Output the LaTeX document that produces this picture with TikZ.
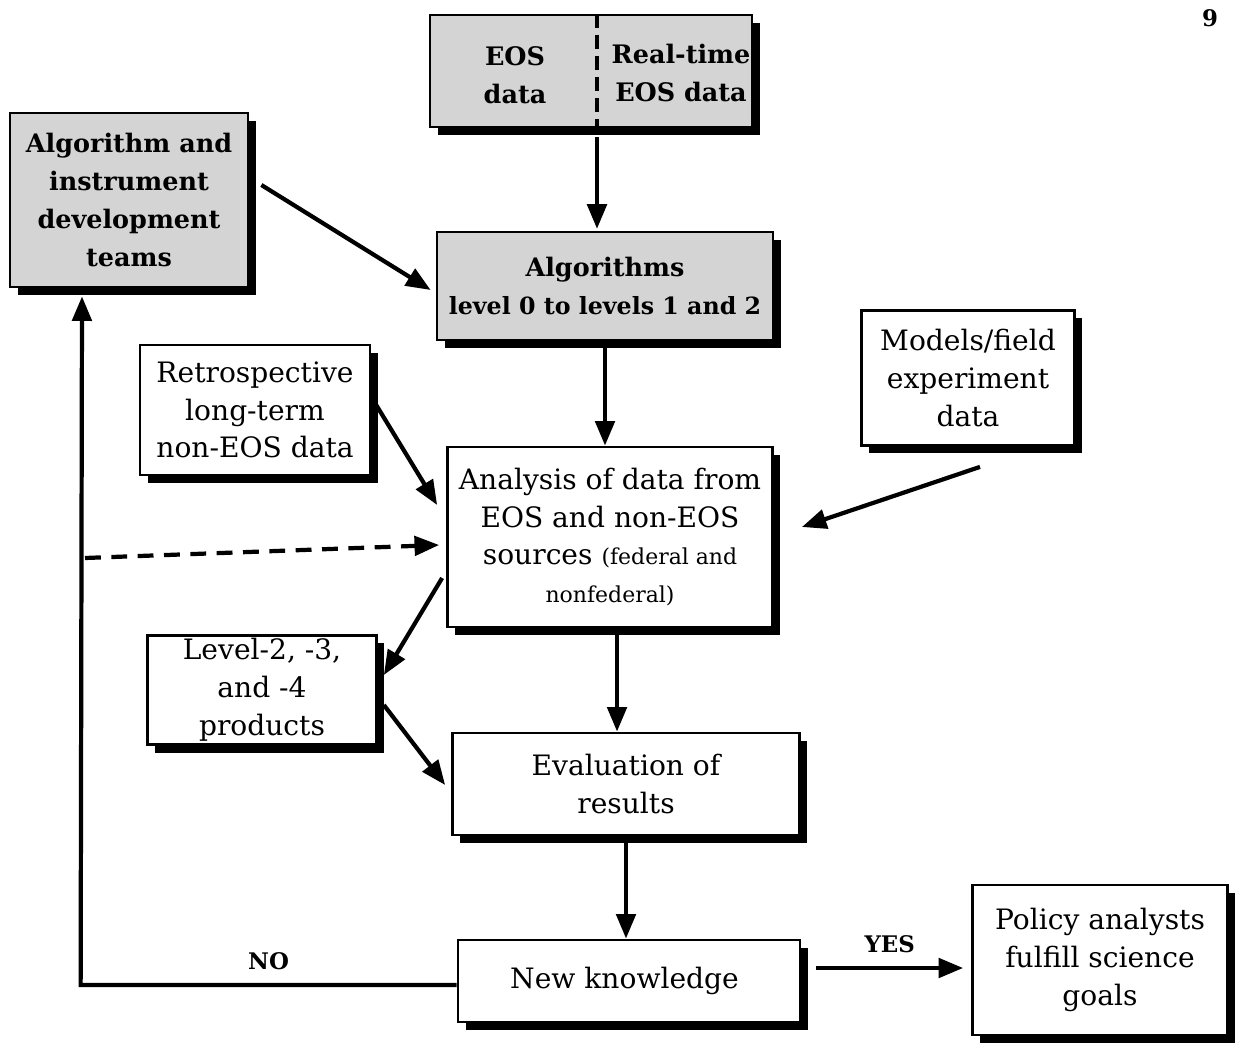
\documentclass[tikz,border=0pt]{standalone}
\usepackage{fontspec}
\setmainfont{DejaVu Serif}
\usetikzlibrary{shadows,arrows.meta,calc}

\begin{document}
\begin{tikzpicture}[x=0.02cm, y=-0.02cm,
      box/.style={draw, line width=1.6pt, fill=white, align=center, inner sep=2pt,
         drop shadow={shadow xshift=4.5pt, shadow yshift=-4.5pt, opacity=1, fill=black},
         font=\fontsize{16}{21.5}\selectfont},
      graybox/.style={box, fill=black!17, font=\bfseries\fontsize{14.5}{21.5}\selectfont},
      plain/.style={align=center, inner sep=0pt, font=\bfseries\fontsize{14.5}{21.5}\selectfont},
      arr/.style={-{Triangle[length=14pt,width=11pt]}, line width=2.4pt},
      lbl/.style={font=\bfseries\fontsize{13}{15}\selectfont}]
      \useasboundingbox (0,0) rectangle (1236,1043);
      \node (page) [lbl] at (1210,18) {9};
      % top row
      \node (eos) [graybox, minimum width=6.44cm, minimum height=2.24cm] at (591,71) {};
      \coordinate (div) at (597,71);
      \node (eosA) [plain] at (515,75) {EOS\\data};
      \node (eosB) [plain] at (681,73) {Real-time\\EOS data};
      \draw[line width=1.8pt, dash pattern=on 8pt off 4pt] (div |- eos.north) -- (div |- eos.south);
      \node (teams) [graybox, minimum width=4.76cm, minimum height=3.48cm] at (129,200) {
         Algorithm and\\instrument\\development\\teams
      };
      \node (algo) [graybox, minimum width=6.72cm, minimum height=2.16cm] at (605,286) {
         Algorithms\\{\fontsize{13.5}{16}\selectfont level 0 to levels 1 and 2}
      };
      % middle
      \node (retro) [box, minimum width=4.6cm, minimum height=2.6cm] at (255,410) {
         Retrospective\\long-term\\non-EOS data
      };
      \node (models) [box, minimum width=4.26cm, minimum height=2.7cm] at (968,378) {
         Models/field\\experiment\\data
      };
      \node (analysis) [box, minimum width=6.5cm, minimum height=3.6cm] at (610,537) {
         Analysis of data from\\EOS and non-EOS\\sources {\fontsize{12.5}{16}\selectfont(federal and}\\
         {\fontsize{12.5}{16}\selectfont nonfederal)}
      };
      \node (products) [box, minimum width=4.58cm, minimum height=2.0cm] at (262,690) {
         Level-2, -3,\\and -4\\products
      };
      \node (eval) [box, minimum width=6.94cm, minimum height=2.04cm] at (626,784) {
         Evaluation of\\results
      };
      % bottom
      \node (newk) [box, minimum width=6.84cm, minimum height=1.64cm] at (629,981) {
         New knowledge
      };
      \node (policy) [box, minimum width=5.1cm, minimum height=3.0cm] at (1100,960) {
         Policy analysts\\fulfill science\\goals
      };
      \coordinate (fb) at (85,558);
      \draw[arr] ([yshift=-5pt]div |- eos.south) -- ([yshift=1pt]div |- algo.north);
      \draw[arr] ($(teams.east)+(12,-15)$) -- ($(algo.west)+(-5,4)$);
      \draw[arr] (algo.south) -- (algo.south |- analysis.north);
      \draw[arr] ($(retro.east)+(3,-8)$) -- ($(analysis.west)+(-9,-32)$);
      \draw[arr] ($(models.south)+(12,20)$) -- ($(analysis.east)+(28,-10)$);
      \draw[arr, dash pattern=on 9pt off 6pt] (fb) -- ($(analysis.west)+(-7,8)$);
      \draw[arr] ($(analysis.west)+(-4,41)$) -- ($(products.east)+(6,-15)$);
      \draw[arr] ($(products.east)+(6,15)$) -- ($(eval.west)+(-6,1)$);
      \draw[arr] ([xshift=4pt]analysis.south) -- ([xshift=4pt]analysis.south |- eval.north);
      \draw[arr] (eval.south) -- (eval.south |- newk.north);
      \draw[arr] ($(newk.east)+(15,-13)$) -- node[lbl, above=4pt] {YES} ($(policy.west)+(-8,8)$);
      \draw[arr] ($(newk.west)+(0,4)$) -- node[lbl, pos=0.5, above=4pt] {NO} ($(newk.west)+(-376,4)$)
         -- ($(teams.south)+(-47,8)$);
\end{tikzpicture}
\end{document}
